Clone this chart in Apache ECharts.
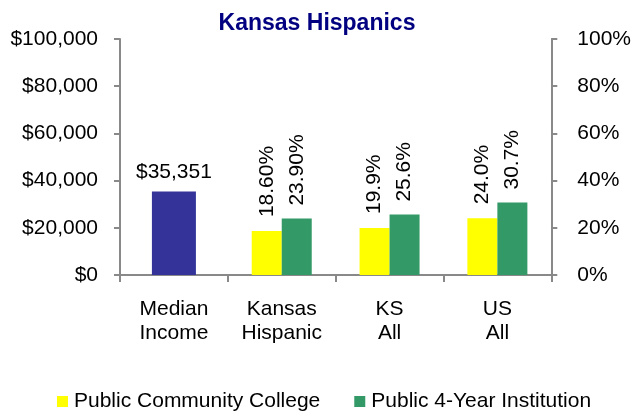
<!DOCTYPE html>
<html>
<head>
<meta charset="utf-8">
<script src="https://cdn.jsdelivr.net/npm/echarts@6/dist/echarts.min.js"></script>
<style>
html,body{margin:0;padding:0;background:#fff;}
#chart{width:634px;height:413px;}
</style>
</head>
<body>
<div id="chart"></div>
<script>
const titleText = 'Kansas Hispanics';
const categories = ['Median\nIncome', 'Kansas\nHispanic', 'KS\nAll', 'US\nAll'];
const medianIncome = [35351, '-', '-', '-'];
const communityCollege = ['-', 18.6, 19.9, 24.0];
const fourYear = ['-', 23.9, 25.6, 30.7];
const communityLabels = ['', '18.60%', '19.9%', '24.0%'];
const fourYearLabels = ['', '23.90%', '25.6%', '30.7%'];
const seriesNames = ['Median Income', 'Public Community College', 'Public 4-Year Institution'];

const FONT = '"Liberation Sans", Arial, sans-serif';
const AX = '#898989';

const chart = echarts.init(document.getElementById('chart'), null, {renderer: 'canvas'});
chart.setOption({
  animation: false,
  backgroundColor: '#fff',
  textStyle: {fontFamily: FONT},
  title: {
    text: titleText, left: 'center', top: 7,
    textStyle: {fontFamily: FONT, fontSize: 23, fontWeight: 'bold', color: '#000080'}
  },
  legend: {
    data: [seriesNames[1], seriesNames[2]],
    left: 52, top: 386,
    itemWidth: 11, itemHeight: 11, itemGap: 34,
    icon: 'rect',
    textStyle: {fontFamily: FONT, fontSize: 21, color: '#000', padding: [0, 0, 0, 1]}
  },
  grid: {left: 120, right: 81, top: 39, bottom: 138, containLabel: false},
  xAxis: [{
    type: 'category', data: categories, boundaryGap: true,
    axisLine: {lineStyle: {color: AX, width: 2}},
    axisTick: {show: true, length: 7, lineStyle: {color: AX, width: 2}},
    axisLabel: {fontFamily: FONT, fontSize: 21, color: '#000', margin: 22, lineHeight: 24, interval: 0}
  }, {
    type: 'category', data: categories, show: false, boundaryGap: true
  }],
  yAxis: [{
    type: 'value', min: 0, max: 100000, interval: 20000, position: 'left',
    splitLine: {show: false},
    axisLine: {show: true, lineStyle: {color: AX, width: 2}},
    axisTick: {show: true, length: 6, lineStyle: {color: AX, width: 2}},
    axisLabel: {fontFamily: FONT, fontSize: 21, color: '#000', margin: 22,
      formatter: v => '$' + v.toLocaleString('en-US')}
  }, {
    type: 'value', min: 0, max: 100, interval: 20, position: 'right',
    splitLine: {show: false},
    axisLine: {show: true, lineStyle: {color: AX, width: 2}},
    axisTick: {show: true, length: 6, lineStyle: {color: AX, width: 2}},
    axisLabel: {fontFamily: FONT, fontSize: 21, color: '#000', margin: 26, formatter: '{value}%'}
  }],
  series: [{
    name: seriesNames[0], type: 'bar', xAxisIndex: 0, yAxisIndex: 0,
    data: medianIncome, barWidth: 44,
    itemStyle: {color: '#333399'},
    label: {show: true, position: 'top', distance: 9, fontFamily: FONT, fontSize: 21, color: '#000',
      formatter: p => '$' + p.value.toLocaleString('en-US')}
  }, {
    name: seriesNames[1], type: 'bar', xAxisIndex: 1, yAxisIndex: 1,
    data: communityCollege, barWidth: 30, barGap: '0%',
    itemStyle: {color: '#FFFF00'},
    label: {show: true, position: 'top', rotate: 90, align: 'left', verticalAlign: 'middle', distance: 14,
      fontFamily: FONT, fontSize: 21, color: '#000', formatter: p => communityLabels[p.dataIndex]}
  }, {
    name: seriesNames[2], type: 'bar', xAxisIndex: 1, yAxisIndex: 1,
    data: fourYear, barWidth: 30, barGap: '0%',
    itemStyle: {color: '#339966'},
    label: {show: true, position: 'top', rotate: 90, align: 'left', verticalAlign: 'middle', distance: 13,
      fontFamily: FONT, fontSize: 21, color: '#000', formatter: p => fourYearLabels[p.dataIndex]}
  }]
});
</script>
</body>
</html>
